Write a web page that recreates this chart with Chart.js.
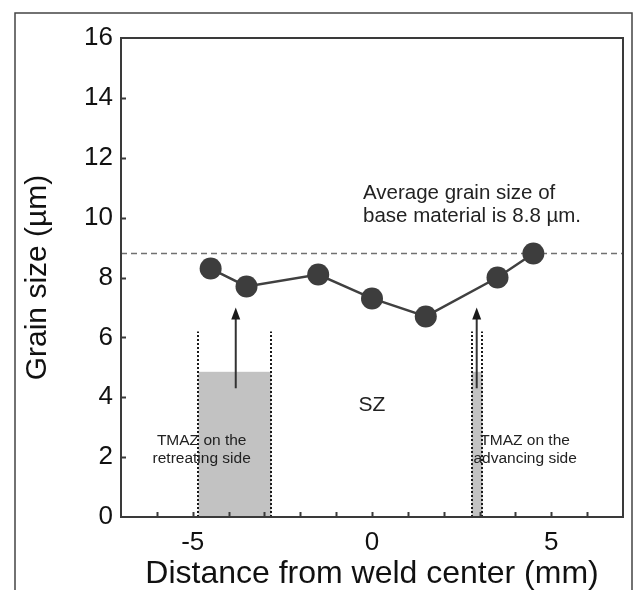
<!DOCTYPE html>
<html>
<head>
<meta charset="utf-8">
<script src="https://cdn.jsdelivr.net/npm/chart.js@4.4.1/dist/chart.umd.min.js"></script>
<style>
  html, body { margin: 0; padding: 0; background: #fff; }
  canvas { display: block; }
</style>
</head>
<body>
<canvas id="grainChart" width="634" height="590"></canvas>
<script>
// grain size across the weld (mm, µm)
const distance = [-4.5, -3.5, -1.5, 0, 1.5, 3.5, 4.5];
const grainSize = [8.3, 7.7, 8.1, 7.3, 6.7, 8.0, 8.8];
const baseGrain = 8.8;

// TMAZ zones: shaded band and dotted boundaries
const zoneStart = [-4.84, 2.78];
const zoneEnd = [-2.81, 3.08];
const zoneFillTop = 4.85;
const zoneLineTop = 6.2;

// arrows pointing from the zones to the curve
const arrowX = [-3.8, 2.92];
const arrowFrom = 4.3;
const arrowTo = 7.0;

// annotation text: [x, y, lines, size, align]
const notes = [
  [-0.25, 10.82, ["Average grain size of", "base material is 8.8 \u00b5m."], 20.5, "left"],
  [0, 3.74, ["SZ"], 21, "center"],
  [-4.75, 2.54, ["TMAZ on the", "retreating side"], 15.5, "center"],
  [4.27, 2.54, ["TMAZ on the", "advancing side"], 15.5, "center"]
];

const FONT = "'Liberation Sans', Arial, Helvetica, sans-serif";

const decor = {
  id: "decor",
  beforeDatasetsDraw(chart) {
    const { ctx, scales: { x, y } } = chart;
    const y0 = y.getPixelForValue(0);
    ctx.save();

    ctx.fillStyle = "#c2c2c2";
    zoneStart.forEach((start, i) => {
      const left = x.getPixelForValue(start);
      const right = x.getPixelForValue(zoneEnd[i]);
      const top = y.getPixelForValue(zoneFillTop);
      ctx.fillRect(left, top, right - left, y0 - top);
    });

    ctx.strokeStyle = "#1a1a1a";
    ctx.lineWidth = 2;
    ctx.setLineDash([2, 2]);
    zoneStart.concat(zoneEnd).forEach((v) => {
      const px = Math.round(x.getPixelForValue(v));
      ctx.beginPath();
      ctx.moveTo(px, y0);
      ctx.lineTo(px, y.getPixelForValue(zoneLineTop));
      ctx.stroke();
    });
    ctx.setLineDash([]);

    ctx.strokeStyle = "#333";
    ctx.fillStyle = "#1a1a1a";
    ctx.lineWidth = 2;
    arrowX.forEach((v) => {
      const px = x.getPixelForValue(v);
      const tip = y.getPixelForValue(arrowTo);
      ctx.beginPath();
      ctx.moveTo(px, y.getPixelForValue(arrowFrom));
      ctx.lineTo(px, tip + 8);
      ctx.stroke();
      ctx.beginPath();
      ctx.moveTo(px, tip);
      ctx.lineTo(px - 4.5, tip + 12);
      ctx.lineTo(px + 4.5, tip + 12);
      ctx.closePath();
      ctx.fill();
    });

    ctx.fillStyle = "#222";
    ctx.textBaseline = "middle";
    notes.forEach(([nx, ny, lines, size, align]) => {
      ctx.font = size + "px " + FONT;
      ctx.textAlign = align;
      const lh = size * 1.15;
      lines.forEach((line, i) => {
        ctx.fillText(line, x.getPixelForValue(nx), y.getPixelForValue(ny) + i * lh);
      });
    });
    ctx.restore();
  },
  afterDraw(chart) {
    const { ctx, chartArea: a, scales: { x, y } } = chart;
    ctx.save();
    ctx.strokeStyle = "#3a3a3a";
    ctx.lineWidth = 2;

    x.ticks.forEach((t) => {
      if (t.value <= x.min || t.value >= x.max) return;
      const px = Math.round(x.getPixelForValue(t.value)) + 0.5;
      ctx.beginPath();
      ctx.moveTo(px, a.bottom);
      ctx.lineTo(px, a.bottom - 5);
      ctx.stroke();
    });
    y.ticks.forEach((t) => {
      if (t.value <= y.min || t.value >= y.max) return;
      const py = Math.round(y.getPixelForValue(t.value)) + 0.5;
      ctx.beginPath();
      ctx.moveTo(a.left, py);
      ctx.lineTo(a.left + 5, py);
      ctx.stroke();
    });

    ctx.strokeRect(a.left, a.top, a.right - a.left, a.bottom - a.top);

    // outer figure border (open at the bottom)
    ctx.strokeStyle = "#444";
    ctx.lineWidth = 1.5;
    ctx.beginPath();
    ctx.moveTo(15, 590);
    ctx.lineTo(15, 13);
    ctx.lineTo(632, 13);
    ctx.lineTo(632, 590);
    ctx.stroke();
    ctx.restore();
  }
};

new Chart(document.getElementById("grainChart"), {
  type: "scatter",
  data: {
    datasets: [
      {
        label: "Grain size",
        data: distance.map((d, i) => ({ x: d, y: grainSize[i] })),
        showLine: true,
        borderColor: "#404040",
        borderWidth: 2.5,
        pointRadius: 11,
        pointBackgroundColor: "#3d3d3d",
        pointBorderWidth: 0,
        pointHoverRadius: 11
      },
      {
        label: "Base material",
        data: [{ x: -7, y: baseGrain }, { x: 7, y: baseGrain }],
        showLine: true,
        borderColor: "#707070",
        borderWidth: 1.5,
        borderDash: [6, 4],
        pointRadius: 0
      }
    ]
  },
  options: {
    responsive: false,
    animation: false,
    events: [],
    layout: { padding: { left: 0, right: 11, top: 38, bottom: 0 } },
    plugins: {
      legend: { display: false },
      tooltip: { enabled: false }
    },
    scales: {
      x: {
        type: "linear",
        min: -7,
        max: 7,
        afterFit: (scale) => { scale.height = 73; },
        grid: { display: false, drawTicks: false },
        border: { display: false },
        ticks: {
          stepSize: 1,
          padding: 10,
          color: "#111",
          font: { family: FONT, size: 26 },
          maxRotation: 0,
          autoSkip: false,
          callback: (v) => (v % 5 === 0 ? String(v) : "")
        },
        title: {
          display: true,
          text: "Distance from weld center (mm)",
          color: "#111",
          font: { family: FONT, size: 32 },
          padding: { top: 0, bottom: -3 }
        }
      },
      y: {
        type: "linear",
        min: 0,
        max: 16,
        afterFit: (scale) => { scale.width = 121; },
        grid: { display: false, drawTicks: false },
        border: { display: false },
        ticks: {
          stepSize: 2,
          padding: 8,
          color: "#111",
          font: { family: FONT, size: 26 }
        },
        title: {
          display: true,
          text: "Grain size (\u00b5m)",
          color: "#111",
          font: { family: FONT, size: 30 },
          padding: { top: 20, bottom: 0 }
        }
      }
    }
  },
  plugins: [decor]
});
</script>
</body>
</html>
